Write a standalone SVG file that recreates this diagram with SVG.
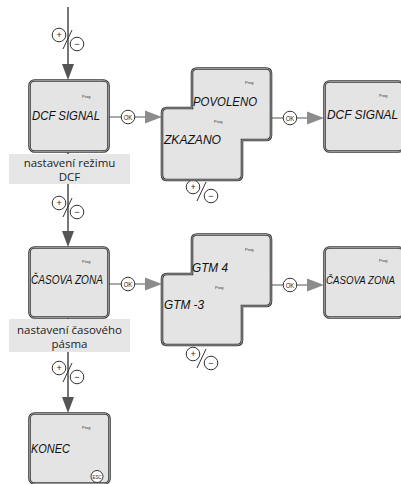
<svg xmlns="http://www.w3.org/2000/svg" xmlns:xlink="http://www.w3.org/1999/xlink" width="401" height="484" viewBox="0 0 401 484">
<style>
.bx{fill:#e4e4e4;stroke:#3a3a3a;stroke-width:2.6}
.bxi{fill:none;stroke:#a0a0a0;stroke-width:0.9}
.lcd{font-family:"Liberation Sans",sans-serif;font-style:italic;font-size:12px;fill:#111}
.prog{font-family:"Liberation Sans",sans-serif;font-size:4px;fill:#333}
.lbl{fill:#e6e6e6}
.lt{font-family:"Open Sans",sans-serif;font-size:11.5px;fill:#222;text-anchor:middle}
.vl{stroke:#555;stroke-width:1.6;fill:none}
.va{fill:#555}
.hl{stroke:#8c8c8c;stroke-width:1.6;fill:none}
.ha{fill:#8c8c8c}
.c{fill:#fff;stroke:#333;stroke-width:1}
.ct{font-family:"Liberation Sans",sans-serif;font-size:8px;fill:#222;text-anchor:middle}
.pm{font-family:"Liberation Sans",sans-serif;font-size:9px;fill:#222;text-anchor:middle}
</style>
<defs>
<g id="pmsym">
<circle class="c" cx="-9" cy="-5" r="6.8"/>
<circle class="c" cx="9" cy="4" r="6.8"/>
<text class="pm" x="-9" y="-1.8">+</text>
<text class="pm" x="9" y="7.3">−</text>
<line x1="-5" y1="9" x2="4" y2="-10" stroke="#333" stroke-width="1"/>
</g>
<g id="ok">
<circle class="c" cx="0" cy="0" r="6.8"/>
<text class="ct" x="0" y="2.9" textLength="8.5" lengthAdjust="spacingAndGlyphs">OK</text>
</g>
</defs>

<g id="connectors">
<line class="vl" x1="68" y1="7" x2="68" y2="66"/>
<polygon class="va" points="62,64 74,64 68,80"/>
<line class="vl" x1="68" y1="152" x2="68" y2="233"/>
<polygon class="va" points="62,231 74,231 68,247"/>
<line class="vl" x1="68" y1="317" x2="68" y2="399"/>
<polygon class="va" points="62,397 74,397 68,413"/>

<line class="hl" x1="109" y1="117" x2="146" y2="117"/>
<polygon class="ha" points="145,110.5 145,123.5 162,117"/>
<line class="hl" x1="271" y1="118" x2="308" y2="118"/>
<polygon class="ha" points="307,111.5 307,124.5 324,118"/>
<line class="hl" x1="109" y1="284" x2="146" y2="284"/>
<polygon class="ha" points="145,277.5 145,290.5 162,284"/>
<line class="hl" x1="271" y1="285" x2="308" y2="285"/>
<polygon class="ha" points="307,278.5 307,291.5 324,285"/>

<use xlink:href="#ok" x="128" y="117"/>
<use xlink:href="#ok" x="290" y="118"/>
<use xlink:href="#ok" x="128" y="284"/>
<use xlink:href="#ok" x="290" y="285"/>

<use xlink:href="#pmsym" x="68" y="40"/>
<use xlink:href="#pmsym" x="68" y="208"/>
<use xlink:href="#pmsym" x="68" y="373"/>
<use xlink:href="#pmsym" x="202" y="192"/>
<use xlink:href="#pmsym" x="202" y="359"/>
</g>

<g id="n-dcf-signal">
<rect class="bx" x="29.5" y="80.5" width="79" height="71" rx="5"/>
<rect class="bxi" x="29.5" y="80.5" width="79" height="71" rx="5"/>
<text class="prog" x="82" y="98">Prog</text>
<text class="lcd" x="32" y="119.5" textLength="68" lengthAdjust="spacingAndGlyphs">DCF SIGNAL</text>
</g>

<g id="n-label-dcf">
<rect class="lbl" x="9" y="154" width="121" height="30"/>
<text class="lt" x="69.5" y="166.5">nastavení režimu</text>
<text class="lt" x="69.5" y="180.5">DCF</text>
</g>

<g id="n-povoleno-zkazano">
<path class="bx" d="M197,68.5 H266 Q271,68.5 271,73.5 V135 Q271,140 266,140 H242 V175 Q242,180 237,180 H167 Q162,180 162,175 V113 Q162,108 167,108 H192 V73.5 Q192,68.5 197,68.5 Z"/>
<path class="bxi" d="M197,68.5 H266 Q271,68.5 271,73.5 V135 Q271,140 266,140 H242 V175 Q242,180 237,180 H167 Q162,180 162,175 V113 Q162,108 167,108 H192 V73.5 Q192,68.5 197,68.5 Z"/>
<text class="prog" x="245" y="84">Prog</text>
<text class="lcd" x="193" y="105.5" textLength="64" lengthAdjust="spacingAndGlyphs">POVOLENO</text>
<text class="prog" x="214" y="123">Prog</text>
<text class="lcd" x="164" y="143.5" textLength="57" lengthAdjust="spacingAndGlyphs">ZKAZANO</text>
</g>

<g id="n-dcf-signal-2">
<rect class="bx" x="324.5" y="81.5" width="79" height="70" rx="5"/>
<rect class="bxi" x="324.5" y="81.5" width="79" height="70" rx="5"/>
<text class="prog" x="379" y="97">Prog</text>
<text class="lcd" x="327" y="118.5" textLength="71" lengthAdjust="spacingAndGlyphs">DCF SIGNAL</text>
</g>

<g id="n-casova-zona">
<rect class="bx" x="29.5" y="247.5" width="79" height="70" rx="5"/>
<rect class="bxi" x="29.5" y="247.5" width="79" height="70" rx="5"/>
<text class="prog" x="82" y="263">Prog</text>
<text class="lcd" x="31" y="283.5" textLength="72" lengthAdjust="spacingAndGlyphs">ČASOVA ZONA</text>
</g>

<g id="n-label-pasma">
<rect class="lbl" x="9" y="319" width="121" height="33"/>
<text class="lt" x="69.5" y="333.5">nastavení časového</text>
<text class="lt" x="69.5" y="347.5">pásma</text>
</g>

<g id="n-gtm">
<path class="bx" d="M197,234.5 H266 Q271,234.5 271,239.5 V301 Q271,306 266,306 H242 V340 Q242,345 237,345 H167 Q162,345 162,340 V279 Q162,274 167,274 H192 V239.5 Q192,234.5 197,234.5 Z"/>
<path class="bxi" d="M197,234.5 H266 Q271,234.5 271,239.5 V301 Q271,306 266,306 H242 V340 Q242,345 237,345 H167 Q162,345 162,340 V279 Q162,274 167,274 H192 V239.5 Q192,234.5 197,234.5 Z"/>
<text class="prog" x="245" y="251">Prog</text>
<text class="lcd" x="192" y="271.5" textLength="36" lengthAdjust="spacingAndGlyphs">GTM 4</text>
<text class="prog" x="215" y="289">Prog</text>
<text class="lcd" x="164" y="308.5" textLength="40" lengthAdjust="spacingAndGlyphs">GTM -3</text>
</g>

<g id="n-casova-zona-2">
<rect class="bx" x="324.5" y="247.5" width="79" height="70" rx="5"/>
<rect class="bxi" x="324.5" y="247.5" width="79" height="70" rx="5"/>
<text class="prog" x="379" y="262">Prog</text>
<text class="lcd" x="326" y="283.5" style="font-size:11px" textLength="69" lengthAdjust="spacingAndGlyphs">ČASOVA ZONA</text>
</g>

<g id="n-konec">
<rect class="bx" x="29.5" y="413.5" width="80" height="70" rx="5"/>
<rect class="bxi" x="29.5" y="413.5" width="80" height="70" rx="5"/>
<text class="prog" x="82" y="429">Prog</text>
<text class="lcd" x="31" y="452.5" textLength="39" lengthAdjust="spacingAndGlyphs">KONEC</text>
<circle class="c" cx="97" cy="476.5" r="6"/>
<text class="ct" x="97" y="479" style="font-size:6px" textLength="9" lengthAdjust="spacingAndGlyphs">ESC</text>
</g>
</svg>
